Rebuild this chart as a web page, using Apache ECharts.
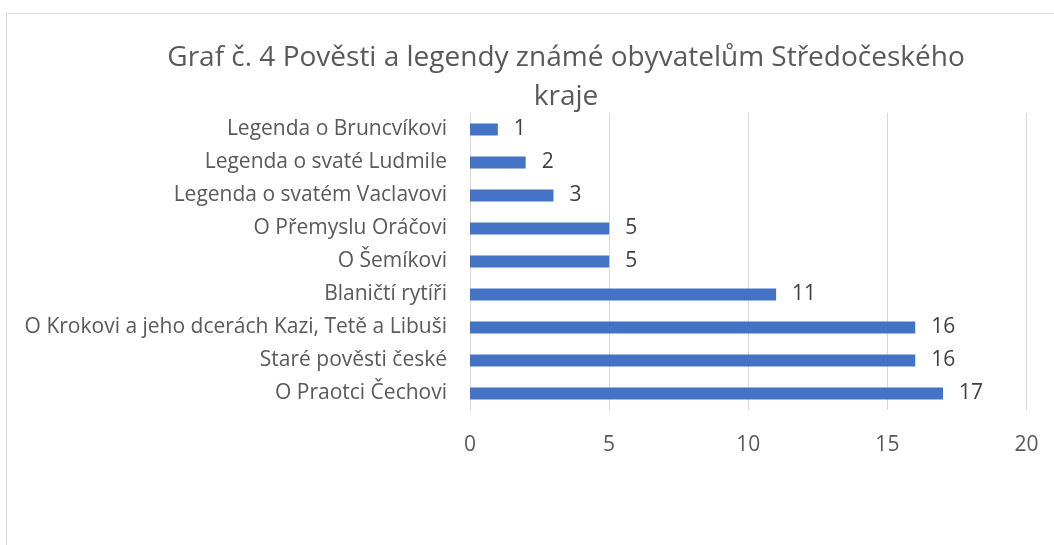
<!DOCTYPE html>
<html>
<head>
<meta charset="utf-8">
<script src="https://cdn.jsdelivr.net/npm/echarts@6/dist/echarts.min.js"></script>
<style>
  html, body { margin: 0; padding: 0; background: #ffffff; }
  #main { width: 1054px; height: 545px; }
</style>
</head>
<body>
<div id="main"></div>
<script>
// categories bottom -> top (category axis starts at the bottom)
const categories = [
  "O Praotci Čechovi",
  "Staré pověsti české",
  "O Krokovi a jeho dcerách Kazi, Tetě a Libuši",
  "Blaničtí rytíři",
  "O Šemíkovi",
  "O Přemyslu Oráčovi",
  "Legenda o svatém Vaclavovi",
  "Legenda o svaté Ludmile",
  "Legenda o Bruncvíkovi"
];
const counts = [17, 16, 16, 11, 5, 5, 3, 2, 1];
const titleText = "Graf č. 4 Pověsti a legendy známé obyvatelům Středočeského\nkraje";

const fontFamily = "'Open Sans', 'Noto Sans', sans-serif";
const myChart = echarts.init(document.getElementById("main"));

myChart.setOption({
  animation: false,
  backgroundColor: "#ffffff",
  textStyle: { fontFamily: fontFamily },
  graphic: [
    {
      // outer chart frame
      type: "rect",
      shape: { x: 6.5, y: 13.5, width: 1100, height: 700 },
      style: { fill: "none", stroke: "#d9d9d9", lineWidth: 1 },
      silent: true
    }
  ],
  title: {
    text: titleText,
    left: 566,
    top: 39,
    padding: 0,
    textAlign: "center",
    textStyle: {
      color: "#595959",
      fontSize: 28,
      fontWeight: "normal",
      lineHeight: 38.5,
      fontFamily: fontFamily
    }
  },
  grid: {
    left: 470,
    right: 27.5,
    top: 113,
    bottom: 135,
    containLabel: false
  },
  xAxis: {
    type: "value",
    min: 0,
    max: 20,
    interval: 5,
    axisLine: { show: false },
    axisTick: { show: false },
    splitLine: { lineStyle: { color: "#d9d9d9", width: 1 } },
    axisLabel: {
      color: "#595959",
      fontSize: 21,
      margin: 25,
      fontFamily: fontFamily
    }
  },
  yAxis: {
    type: "category",
    data: categories,
    axisLine: { show: false },
    axisTick: { show: false },
    axisLabel: {
      color: "#595959",
      fontSize: 21,
      margin: 23,
      padding: [4, 0, 0, 0],
      fontFamily: fontFamily
    }
  },
  series: [
    {
      type: "bar",
      data: counts,
      barWidth: 12,
      itemStyle: { color: "#4472c4" },
      label: {
        show: true,
        position: "right",
        distance: 16,
        padding: [4, 0, 0, 0],
        color: "#404040",
        fontSize: 21,
        fontFamily: fontFamily
      }
    }
  ]
});
</script>
</body>
</html>
